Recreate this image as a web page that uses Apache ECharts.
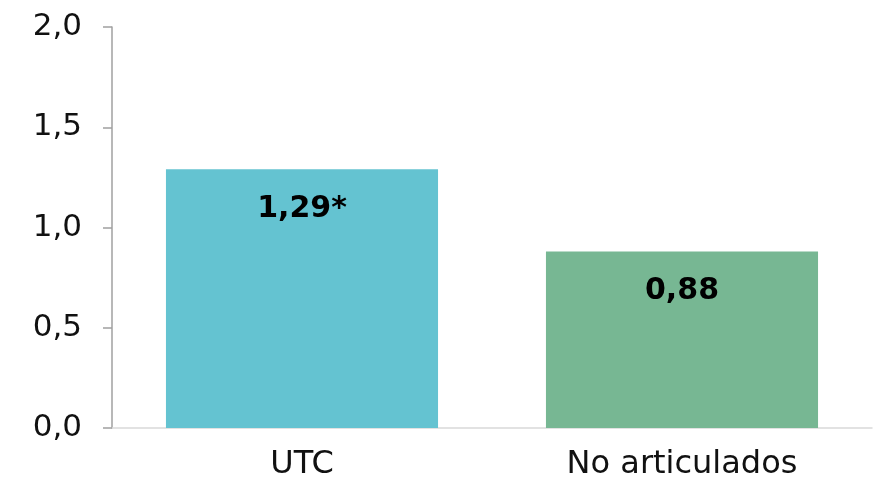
<!DOCTYPE html>
<html><head><meta charset="utf-8">
<script src="https://cdn.jsdelivr.net/npm/echarts@6/dist/echarts.min.js"></script>
<style>html,body{margin:0;padding:0;background:#fff}#c{width:879px;height:481px}</style>
</head><body><div id="c"></div>
<script>
const categories = ["UTC", "No articulados"];
const values = [1.29, 0.88];
const valueLabels = ["1,29*", "0,88"];
const barColors = ["#64C3D1", "#77B793"];
const yTicks = [0, 0.5, 1.0, 1.5, 2.0];

const chart = echarts.init(document.getElementById('c'), null, {renderer: 'canvas'});
const font = '"DejaVu Sans", sans-serif';
chart.setOption({
  animation: false,
  grid: {left: 112, right: 7, top: 27, bottom: 53},
  xAxis: {
    type: 'category', data: categories,
    axisLine: {lineStyle: {color: '#d9d9d9', width: 1.5}},
    axisTick: {show: false},
    axisLabel: {color: '#111', fontSize: 32, fontFamily: font, margin: 21}
  },
  yAxis: {
    type: 'value', min: 0, max: 2, interval: 0.5,
    axisLine: {show: true, lineStyle: {color: '#a0a0a0', width: 1.5}},
    axisTick: {show: true, length: 9, lineStyle: {color: '#a0a0a0', width: 1.5}},
    splitLine: {show: false},
    axisLabel: {color: '#111', fontSize: 31, fontFamily: font, margin: 30,
      formatter: v => v.toFixed(1).replace('.', ',')}
  },
  series: [{
    type: 'bar', barWidth: '71.6%',
    data: values.map((v, i) => ({value: v, itemStyle: {color: barColors[i]}})),
    label: {show: true, position: 'insideTop', distance: 25, color: '#000',
      fontSize: 30, fontWeight: 'bold', fontFamily: font,
      formatter: p => valueLabels[p.dataIndex]}
  }]
});
</script></body></html>
